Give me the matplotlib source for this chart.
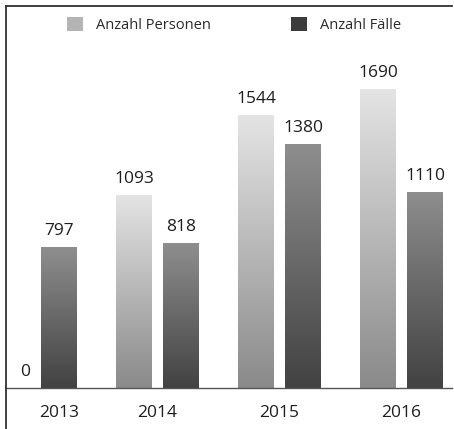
import numpy as np
import matplotlib
matplotlib.use("Agg")
from matplotlib import pyplot as plt
from matplotlib.colors import LinearSegmentedColormap
from matplotlib.lines import Line2D
from matplotlib.patches import Patch

years = ["2013", "2014", "2015", "2016"]
personen = [0, 1093, 1544, 1690]
faelle = [797, 818, 1380, 1110]
series_names = ["Anzahl Personen", "Anzahl Fälle"]

plt.rcParams['font.family'] = ['Open Sans', 'DejaVu Sans']
TEXT = "#1e1e1e"

fig = plt.figure(figsize=(4.54, 4.29), dpi=100)
ax = fig.add_axes([6 / 454, 41 / 429, 446 / 454, 382 / 429])

x = np.arange(len(years))
width = 0.295
offset = 0.193
x_left = -0.242

cmap_p = LinearSegmentedColormap.from_list("p", ["#8a8a8a", "#e4e4e4"])
cmap_f = LinearSegmentedColormap.from_list("f", ["#424242", "#8e8e8e"])
grad = np.linspace(0, 1, 256).reshape(-1, 1)


def gradient_bars(bars, cmap):
    # fill every bar with its own vertical gradient
    for patch in bars.patches:
        x0, y0 = patch.get_x(), patch.get_y()
        w, h = patch.get_width(), patch.get_height()
        if h <= 0:
            continue
        im = ax.imshow(grad, cmap=cmap, origin="lower", aspect="auto",
                       extent=[x0, x0 + w, y0, y0 + h], zorder=2)
        im.set_clip_path(patch)


bars_p = ax.bar(x - offset, personen, width, color="none", linewidth=0)
bars_f = ax.bar(x + offset, faelle, width, color="none", linewidth=0)
gradient_bars(bars_p, cmap_p)
gradient_bars(bars_f, cmap_f)

for xs, vals in ((x - offset, personen), (x + offset, faelle)):
    for xi, v in zip(xs, vals):
        ax.annotate(str(v), (max(xi, x_left + 0.16), v), xytext=(0, 12),
                    textcoords="offset pixels", ha="center", va="baseline",
                    fontsize=12.5, color=TEXT)

ax.set_xlim(x_left, x_left + 446 / 122)
ax.set_ylim(0, 2161)

# the empty 2013 group gets its label under the visible bar
tick_pos = [xi + offset if p == 0 else xi for xi, p in zip(x, personen)]
ax.set_xticks(tick_pos)
ax.set_xticklabels(years, fontsize=12.5, color=TEXT)
ax.tick_params(axis="x", length=0, pad=12)
ax.set_yticks([])

ax.spines["right"].set_visible(False)
ax.spines["bottom"].set_color("#555555")
ax.spines["bottom"].set_linewidth(1.0)
ax.spines["left"].set_color("#333333")
ax.spines["top"].set_color("#333333")
ax.spines["left"].set_linewidth(1.3)
ax.spines["top"].set_linewidth(1.3)

# left frame line runs down to the figure bottom
fig.add_artist(Line2D([6 / 454, 6 / 454], [0, 41 / 429], transform=fig.transFigure,
                      color="#333333", linewidth=1.3))

handles = [Patch(facecolor="#b4b4b4", edgecolor="none"),
           Patch(facecolor="#3c3c3c", edgecolor="none")]
fig.legend(handles, series_names, loc="center", bbox_to_anchor=(234 / 454, 1 - 25 / 429),
           ncol=2, frameon=False, fontsize=10.5, handlelength=1.1, handleheight=1.1,
           columnspacing=5.5, handletextpad=0.9, labelcolor="#2a2a2a")

fig.savefig("out.png", dpi=100)
